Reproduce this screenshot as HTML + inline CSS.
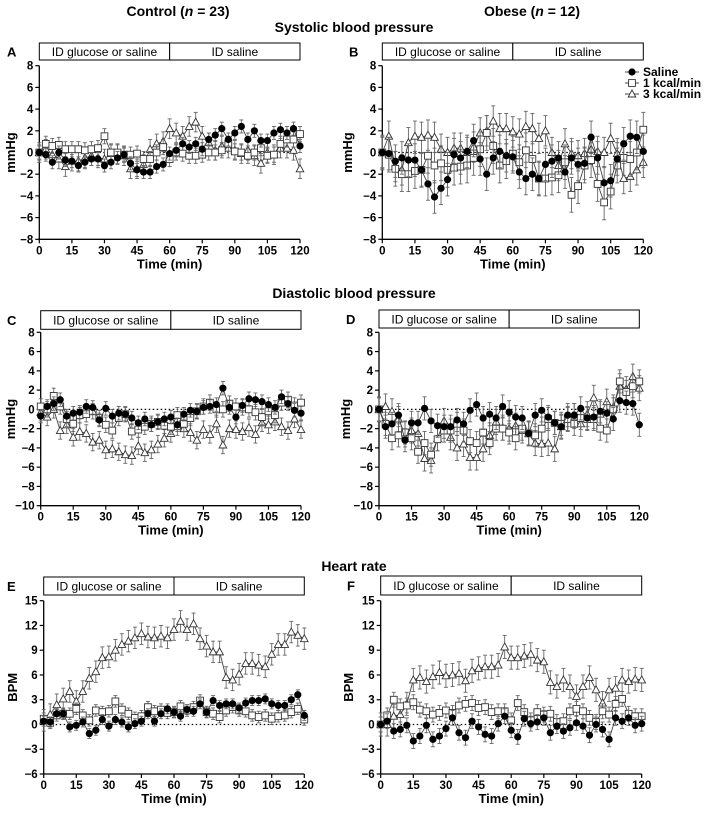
<!DOCTYPE html>
<html><head><meta charset="utf-8"><style>
body{margin:0;background:#fff;}
svg{display:block;font-family:"Liberation Sans",Arial,sans-serif;}
</style></head><body>
<svg id="fig" width="709" height="813" viewBox="0 0 709 813">
<text x="178" y="16" text-anchor="middle" font-size="14" font-weight="bold">Control (<tspan font-style="italic">n</tspan> = 23)</text>
<text x="532" y="16" text-anchor="middle" font-size="14" font-weight="bold">Obese (<tspan font-style="italic">n</tspan> = 12)</text>
<text x="354" y="32" text-anchor="middle" font-size="14" font-weight="bold">Systolic blood pressure</text>
<text x="354" y="298" text-anchor="middle" font-size="14" font-weight="bold">Diastolic blood pressure</text>
<text x="354" y="571" text-anchor="middle" font-size="14" font-weight="bold">Heart rate</text>
</svg>
<script>
const times = [0,3,6,9,12,15,18,21,24,27,30,33,36,39,42,45,48,51,54,57,60,63,66,69,72,75,78,81,84,87,90,93,96,99,102,105,108,111,114,117,120];
const xTicks = [0,15,30,45,60,75,90,105,120];
const bpTicksA = [8,6,4,2,0,-2,-4,-6,-8];
const bpTicksC = [8,6,4,2,0,-2,-4,-6,-8,-10];
const hrTicks = [15,12,9,6,3,0,-3,-6];
const seriesNames = ["Saline","1 kcal/min","3 kcal/min"];

const aSaline=[0,-0.2,-0.9,0,-0.7,-0.8,-1.2,-0.9,-0.6,-0.6,-1.2,-0.9,-0.5,-0.2,-1.0,-1.6,-1.8,-1.8,-1.3,-1.1,-0.1,0.2,0.8,0.5,0.8,0.3,1.2,1.6,2.2,1.2,1.8,2.4,1.2,2.0,1.1,1.1,1.8,2.1,1.8,2.2,0.6];
const a1kcal=[0,0.8,0.6,0.7,0.3,0.3,0.3,0.2,0.3,0.4,1.5,0,0,-0.2,-0.2,-0.1,-0.6,-0.6,0,0.5,-0.6,0,-0.1,-0.3,-0.3,-0.2,0,0,0.2,0.8,0.1,0,-0.3,0,0.4,-0.3,-0.2,0.8,1.2,1.2,1.7];
const a3kcal=[0,0.3,-0.2,-0.6,-1.3,-0.8,-0.8,-0.5,-0.3,-0.5,-0.6,-0.1,-0.1,-0.3,-1.5,-1.5,-1.1,0.3,0.8,1.0,2.2,1.8,1.5,2.4,2.8,1.5,0.9,0.2,0.6,0.4,0.2,-0.1,0.2,-0.3,-1.0,0,-0.2,0.4,0.4,0.2,-1.5];
const bSaline=[0,-0.1,-0.8,-0.5,-0.7,-0.7,-1.6,-2.9,-4.1,-3.3,-2.5,-0.2,-0.5,0.1,1.1,-0.6,-2.0,-0.5,0.1,-0.3,-0.4,-1.8,-2.4,-2.0,-2.4,-1.1,-0.8,-0.5,-1.8,-0.5,-1.1,-1.0,1.4,-0.5,-2.8,-2.6,-0.6,0.8,1.5,1.4,0.1];
const b1kcal=[0,-0.2,-1.5,-2.0,-2.0,-1.7,-1.6,-0.3,-1.2,-1.0,-1.6,-1.4,-1.3,-1.2,-0.5,0.3,1.8,0.6,-1.2,-0.8,-0.1,-0.9,0.2,-0.6,-2.4,-2.4,-2.3,-2.1,-0.9,-3.9,-3.1,-1.2,-0.7,-2.9,-4.6,-3.6,-1.2,-0.5,-0.6,0.0,2.1];
const b3kcal=[0,1.5,-1.3,-1.6,0.9,1.5,1.4,1.6,1.4,0.3,0,0.4,0.4,0,0.5,1.8,2.0,2.9,2.2,2.2,1.9,1.7,2.4,2.2,1.3,2.0,0,-1.2,0.8,-0.1,-0.3,-0.1,0.3,0.1,0,1.3,-0.1,-2.4,-2.2,-1.6,-0.9];
const cSaline=[-0.7,0.3,0.6,1.0,-0.7,-0.4,-0.3,0.3,0.2,-1.1,0.1,-0.7,-0.4,-0.5,-0.9,-1.4,-1.0,-1.6,-1.3,-1.0,-0.8,-1.6,-0.5,-0.1,-0.2,0.2,0.3,0.5,2.2,0.2,-0.8,0.4,1.1,1.0,0.8,0.5,0.2,1.3,0.6,-0.1,-0.4];
const c1kcal=[0.3,0,1.4,0.3,-1.0,-1.5,-0.6,-0.5,-0.2,-0.9,-1.6,-2.2,-0.9,-0.5,-2.3,-2.1,-1.8,-1.5,-1.3,-1.7,-1.8,-0.6,-1.5,-0.9,-0.2,0.3,0.7,0,0,0.6,0.3,0.2,0,-0.3,-0.8,-0.2,-0.6,0.7,1.0,0.4,0.7];
const c3kcal=[-0.3,-0.8,0,-2.2,-1.6,-2.9,-2.3,-2.5,-3.4,-3.2,-4.2,-4.1,-4.4,-4.7,-4.8,-3.8,-4.5,-4.2,-3.6,-3.0,-2.5,-1.8,-2.0,-2.4,-3.2,-2.1,-2.6,-1.5,-3.7,-2.0,-2.1,-2.3,-1.9,-2.6,-1.4,-1.6,-1.3,-1.8,-2.2,-1.0,-2.1];
const dSaline=[0,-1.8,-1.5,-0.6,-3.2,-1.4,-1.4,0.1,-1.2,-1.7,-1.8,-1.8,-1.1,-1.5,-0.1,0.5,-0.9,-0.5,-0.9,0.3,-0.3,-0.8,-0.9,-2.5,-0.6,-0.1,-0.8,-1.4,-1.8,-0.6,-0.6,0.1,-0.9,-0.8,-0.2,-0.4,-1.0,0.9,0.7,0.6,-1.6];
const d1kcal=[0,-1.5,-3.0,-2.7,-2.4,-3.0,-4.4,-3.5,-4.7,-3.1,-2.2,-2.2,-1.5,-2.2,-3.3,-3.5,-2.4,-3.5,-2.0,-2.0,-2.4,-3.0,-2.0,-2.5,-2.7,-2.0,-1.0,-1.4,-1.5,-1.0,-1.5,-0.9,-1.0,-1.0,-2.0,-2.2,0,2.9,1.8,2.4,2.9];
const d3kcal=[0,0.3,-0.2,-1.0,-2.6,-2.2,-2.5,-5.1,-5.3,-3.0,-1.2,-2.9,-4.0,-3.6,-5.0,-5.0,-4.1,-2.7,-1.3,-1.9,-2.0,-1.7,-2.2,-2.5,-3.5,-3.6,-3.5,-4.1,-1.8,-1.0,-0.7,-1.5,-0.5,1.2,-0.5,0.8,0.2,2.4,2.1,3.4,2.2];
const eSaline=[0.4,0.3,1.3,1.3,-0.3,-0.1,0.3,-1.1,-0.7,0.6,-0.2,0.6,0.3,-0.3,0.1,0.4,1.3,0.4,1.3,1.9,1.5,1.0,1.8,1.6,2.5,1.5,2.9,2.3,2.5,2.5,2.0,2.6,2.9,2.9,3.1,2.5,2.3,2.3,3.0,3.6,1.1];
const e1kcal=[0.7,0.2,1.1,1.3,1.3,1.9,1.1,0.5,1.7,1.5,1.6,2.8,1.8,1.3,0.8,1.0,2.1,1.6,1.8,1.4,1.5,2.2,1.7,2.1,2.9,1.5,1.3,0.9,1.7,2.1,1.7,1.6,1.1,0.9,1.1,0.7,1.0,1.1,1.5,1.9,0.6];
const e3kcal=[0.5,1.2,2.4,3.1,4.0,2.8,4.0,5.6,6.4,8.1,8.2,9.0,9.7,10.1,10.5,11.0,10.6,10.5,10.7,10.5,11.5,12.5,11.5,12.2,10.4,9.5,8.8,8.8,5.7,5.4,6.1,7.4,7.4,7.2,7.0,8.5,9.7,9.7,11.2,10.8,10.4];
const fSaline=[0,0.4,-0.8,-0.6,-0.1,-2.0,-1.4,-0.1,-1.8,-1.4,-0.5,0.8,-1.0,-1.6,0.4,-0.3,-1.2,-1.4,0.1,1.0,-0.7,-1.5,0.7,0.1,0.3,0.8,-1.0,-0.2,-0.8,-0.4,0.2,-0.2,-1.3,0,-0.6,-1.8,0.8,0.4,0.8,-0.1,0.1];
const f1kcal=[0,1.1,3.0,2.2,2.3,2.7,1.8,1.6,1.2,1.4,1.7,1.4,2.3,2.5,2.6,2.0,2.1,1.5,1.6,1.6,0.5,2.6,1.5,0.5,1.5,1.2,1.3,0.3,0.4,1.6,1.9,1.6,0.8,0.3,1.6,1.2,2.5,3.1,1.3,1.0,1.0];
const f3kcal=[0,0,1.0,1.2,2.5,5.4,5.7,5.2,5.8,6.3,5.9,6.0,6.2,5.3,6.5,6.8,7.0,7.0,7.2,9.4,8.1,8.1,8.3,8.5,7.8,7.6,5.1,4.6,5.4,4.6,3.4,4.6,5.7,4.2,2.6,4.2,4.4,5.4,5.2,5.5,5.4];
const semA=[0.6,0.7,0.9], semB=[1.5,1.6,1.4], semC=[0.7,0.8,0.9], semD=[1.2,1.2,1.3], semE=[0.6,0.7,1.3], semF=[0.9,0.9,1.4];

const NS="http://www.w3.org/2000/svg";
const svg=document.getElementById('fig');
function mk(tag,attrs,parent){const e=document.createElementNS(NS,tag);for(const k in attrs)e.setAttribute(k,attrs[k]);(parent||svg).appendChild(e);return e;}

const panels=[
 {id:'a',letter:'A',x0:39.3,x1:300,yT:65.7,yB:239.3,bT:43,bB:60,ymax:8,ymin:-8,ticks:bpTicksA,ytitle:'mmHg',tx:15,lx:7,data:[aSaline,a1kcal,a3kcal],sem:semA},
 {id:'b',letter:'B',x0:382.3,x1:643.3,yT:65.7,yB:239.3,bT:43,bB:60,ymax:8,ymin:-8,ticks:bpTicksA,ytitle:'mmHg',tx:352,lx:349,data:[bSaline,b1kcal,b3kcal],sem:semB},
 {id:'c',letter:'C',x0:40.7,x1:301,yT:332.3,yB:505.7,bT:310.7,bB:329.3,ymax:8,ymin:-10,ticks:bpTicksC,ytitle:'mmHg',tx:15,lx:7,data:[cSaline,c1kcal,c3kcal],sem:semC},
 {id:'d',letter:'D',x0:379,x1:639.3,yT:332.3,yB:505.7,bT:310,bB:328,ymax:8,ymin:-10,ticks:bpTicksC,ytitle:'mmHg',tx:350,lx:346,data:[dSaline,d1kcal,d3kcal],sem:semD},
 {id:'e',letter:'E',x0:43.7,x1:304.3,yT:600.7,yB:774,bT:577,bB:595,ymax:15,ymin:-6,ticks:hrTicks,ytitle:'BPM',tx:17,lx:7,data:[eSaline,e1kcal,e3kcal],sem:semE},
 {id:'f',letter:'F',x0:380.7,x1:641.7,yT:600.7,yB:774,bT:576,bB:595,ymax:15,ymin:-6,ticks:hrTicks,ytitle:'BPM',tx:353,lx:347,data:[fSaline,f1kcal,f3kcal],sem:semF}
];

panels.forEach(p=>{
 const g=mk('g',{});
 
 
 const xs=t=>p.x0+(t/120)*(p.x1-p.x0);
 const ys=v=>p.yB-(v-p.ymin)/(p.ymax-p.ymin)*(p.yB-p.yT);
 // letter
 const L=mk('text',{x:p.lx,y:(p.bT+p.bB)/2+5,'font-size':13,'font-weight':'bold'},g);L.textContent=p.letter;
 
 
 // protocol box
 const xm=xs(60);
 const b1=mk('rect',{x:p.x0,y:p.bT,width:xm-p.x0,height:p.bB-p.bT,fill:'#fff',stroke:'#000','stroke-width':1},g);
 
 
 const b2=mk('rect',{x:xm,y:p.bT,width:p.x1-xm,height:p.bB-p.bT,fill:'#fff',stroke:'#000','stroke-width':1},g);
 
 
 const t1=mk('text',{x:(p.x0+xm)/2,y:(p.bT+p.bB)/2+4.5,'font-size':12,'text-anchor':'middle'},g);t1.textContent='ID glucose or saline';
 
 
 const t2=mk('text',{x:(xm+p.x1)/2,y:(p.bT+p.bB)/2+4.5,'font-size':12,'text-anchor':'middle'},g);t2.textContent='ID saline';
 
 
 // axes
 const ya=mk('line',{x1:p.x0,y1:p.yT,x2:p.x0,y2:p.yB,stroke:'#000','stroke-width':1.3},g);
 
 
 const xa=mk('line',{x1:p.x0,y1:p.yB,x2:p.x1,y2:p.yB,stroke:'#000','stroke-width':1.3},g);
 
 
 p.ticks.forEach(v=>{
  mk('line',{x1:p.x0-4,y1:ys(v),x2:p.x0,y2:ys(v),stroke:'#000','stroke-width':1.2},g);
  const tl=mk('text',{x:p.x0-6,y:ys(v)+4,'font-size':11.5,'font-weight':'bold','text-anchor':'end'},g);
  tl.textContent=v<0?'\u2212'+(-v):String(v);
  
  
 });
 xTicks.forEach(v=>{
  mk('line',{x1:xs(v),y1:p.yB,x2:xs(v),y2:p.yB+4,stroke:'#000','stroke-width':1.2},g);
  const tl=mk('text',{x:xs(v),y:p.yB+15,'font-size':11.5,'font-weight':'bold','text-anchor':'middle'},g);
  tl.textContent=v;
  
  
 });
 const xt=mk('text',{x:(p.x0+p.x1)/2,y:p.yB+29,'font-size':13,'font-weight':'bold','text-anchor':'middle'},g);xt.textContent='Time (min)';
 
 
 const yc=(p.yT+p.yB)/2;
 const yt=mk('text',{x:p.tx,y:yc,'font-size':13,'font-weight':'bold','text-anchor':'middle',transform:`rotate(-90 ${p.tx} ${yc})`},g);yt.textContent=p.ytitle;
 
 
 const zl=mk('line',{x1:p.x0,y1:ys(0),x2:p.x1,y2:ys(0),stroke:'#000','stroke-width':1.3,'stroke-dasharray':'1.5,2.5'},g);
 
 
 // series: draw 3kcal, 1kcal, saline order
 [2,1,0].forEach(si=>{
  const d=p.data[si], s=p.sem[si];
  const sg=mk('g',{},g);
  
  
  d.forEach((v,i)=>{
   const x=xs(times[i]);
   mk('line',{x1:x,y1:ys(v-s),x2:x,y2:ys(v+s),stroke:'#666','stroke-width':0.9},sg);
   mk('line',{x1:x-2,y1:ys(v+s),x2:x+2,y2:ys(v+s),stroke:'#666','stroke-width':0.9},sg);
   mk('line',{x1:x-2,y1:ys(v-s),x2:x+2,y2:ys(v-s),stroke:'#666','stroke-width':0.9},sg);
  });
  const pts=d.map((v,i)=>xs(times[i]).toFixed(1)+','+ys(v).toFixed(1)).join(' ');
  mk('polyline',{points:pts,fill:'none',stroke:'#444','stroke-width':0.9},sg);
  d.forEach((v,i)=>{
   const x=xs(times[i]), y=ys(v);
   let m;
   if(si===0) m=mk('circle',{cx:x,cy:y,r:3.6,fill:'#000'},sg);
   else if(si===1) m=mk('rect',{x:x-3.4,y:y-3.4,width:6.8,height:6.8,fill:'#fff',stroke:'#333','stroke-width':0.9},sg);
   else m=mk('polygon',{points:`${x},${y-4} ${x-3.8},${y+3} ${x+3.8},${y+3}`,fill:'#fff',stroke:'#333','stroke-width':0.9},sg);
   
   
  });
 });
});
// legend in B
const lg=mk('g',{});


const legY=[72,83,94];
seriesNames.forEach((n,i)=>{
 const y=legY[i];
 mk('line',{x1:625,y1:y,x2:639,y2:y,stroke:'#444','stroke-width':1},lg);
 const x=632;
 let m;
 if(i===0) m=mk('circle',{cx:x,cy:y,r:3.6,fill:'#000'},lg);
 else if(i===1) m=mk('rect',{x:x-3.4,y:y-3.4,width:6.8,height:6.8,fill:'#fff',stroke:'#333','stroke-width':0.9},lg);
 else m=mk('polygon',{points:`${x},${y-4} ${x-3.8},${y+3} ${x+3.8},${y+3}`,fill:'#fff',stroke:'#333','stroke-width':0.9},lg);
 
 
 const t=mk('text',{x:643,y:y+4,'font-size':12,'font-weight':'bold'},lg);t.textContent=n;
 
 
});
</script>
</body></html>
